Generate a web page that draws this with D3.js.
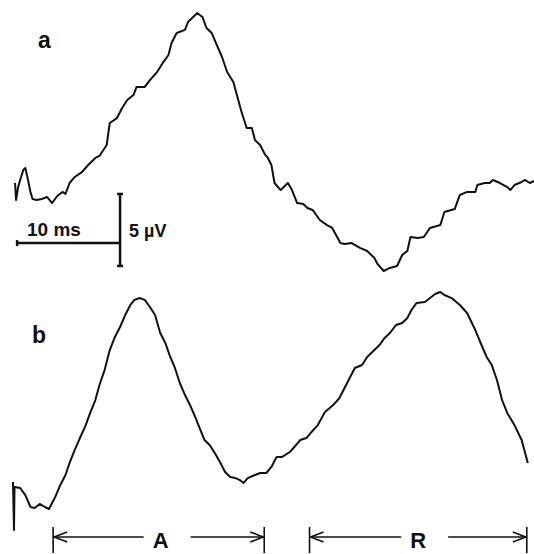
<!DOCTYPE html>
<html>
<head>
<meta charset="utf-8">
<script src="https://cdn.jsdelivr.net/npm/d3@7"></script>
<style>
  body { margin: 0; background: #fff; }
  svg text { font-family: "Liberation Sans", Arial, sans-serif; fill: #111; }
</style>
</head>
<body>
<div id="chart"></div>
<script>
// trace a: time (ms) and potential (µV)
var timeA = [0.1, 0.2, 0.4, 0.6, 0.9, 1.1, 1.3, 1.6, 1.8, 2.2, 2.7, 3.2, 3.7, 4.2, 4.7, 5.0, 5.4, 5.9, 6.6, 7.2, 7.9, 8.3, 9.0, 9.3, 10.0, 10.5, 11.0, 11.6, 11.9, 12.7, 13.2, 13.9, 14.5, 15.0, 15.3, 15.8, 16.6, 16.9, 17.4, 17.8, 18.3, 18.7, 19.2, 19.7, 20.2, 20.7, 21.3, 21.7, 22.1, 22.6, 23.1, 23.4, 23.9, 24.4, 24.6, 25.0, 25.3, 25.9, 26.6, 27.0, 27.5, 28.1, 28.5, 29.0, 29.7, 30.4, 30.9, 31.7, 32.1, 32.8, 33.6, 34.3, 35.0, 35.3, 35.9, 36.5, 37.2, 37.7, 38.2, 38.5, 39.2, 39.8, 40.4, 41.4, 41.8, 42.8, 43.3, 44.0, 44.8, 45.0, 45.7, 46.2, 46.5, 47.2, 47.9, 48.2, 48.6, 49.3, 49.6, 50.1, 50.5];
var voltA = [1.18, 0.0, 0.9, 1.39, 2.08, 2.22, 1.6, 0.56, 0.07, 0.0, 0.07, 0.21, -0.21, 0.28, 0.56, 0.42, 1.18, 1.6, 1.94, 2.43, 2.92, 3.06, 3.82, 5.35, 5.69, 6.39, 6.94, 7.29, 7.85, 7.85, 8.33, 8.89, 9.58, 10.07, 10.9, 11.6, 11.81, 12.36, 12.71, 12.99, 12.71, 11.94, 11.6, 10.76, 9.93, 8.89, 8.19, 7.15, 6.11, 5.0, 5.0, 4.17, 3.82, 3.13, 2.99, 2.43, 1.18, 0.69, 1.18, 0.69, -0.21, -0.28, -0.56, -0.69, -1.39, -1.74, -1.94, -2.99, -3.06, -2.99, -3.33, -3.54, -4.03, -4.44, -4.93, -4.72, -4.58, -3.82, -3.54, -2.57, -2.64, -2.57, -1.94, -1.74, -0.83, -0.63, 0.35, 0.56, 0.56, 1.04, 1.18, 1.18, 1.39, 1.18, 0.9, 0.69, 1.04, 1.25, 1.39, 1.18, 1.32];

// trace b
var timeB = [-0.1, 0.0, 0.05, 0.6, 1.1, 1.6, 2.0, 2.5, 3.0, 3.4, 4.0, 4.5, 5.0, 5.4, 5.9, 6.4, 6.9, 7.4, 7.9, 8.3, 8.8, 9.3, 9.8, 10.3, 10.8, 11.3, 11.7, 12.2, 12.7, 13.2, 13.7, 14.2, 14.7, 15.1, 15.6, 16.1, 16.6, 17.1, 17.6, 18.1, 18.5, 19.0, 19.5, 20.0, 20.5, 21.0, 21.5, 21.9, 22.3, 22.7, 23.4, 23.9, 24.5, 25.0, 25.5, 26.0, 26.8, 27.8, 28.4, 28.9, 29.5, 30.2, 31.0, 31.6, 32.1, 32.6, 33.1, 33.8, 34.3, 34.8, 35.5, 36.0, 36.5, 37.1, 37.7, 38.2, 38.6, 39.1, 39.9, 40.4, 40.9, 41.4, 41.8, 42.5, 43.3, 44.0, 44.8, 45.4, 45.9, 46.4, 46.9, 47.4, 47.9, 48.6, 49.3, 49.9];
var voltB = [1.74, -1.6, 1.39, 1.32, 0.83, 0.0, -0.07, 0.21, 0.0, -0.14, 0.69, 1.53, 2.22, 3.06, 3.96, 4.79, 5.56, 6.53, 7.43, 8.47, 9.51, 10.9, 11.81, 12.5, 13.33, 14.03, 14.38, 14.51, 14.38, 13.89, 13.33, 12.08, 11.39, 10.56, 9.72, 8.61, 7.78, 7.08, 6.25, 5.35, 4.65, 4.31, 3.75, 3.13, 2.43, 2.08, 2.01, 1.88, 1.67, 2.01, 2.22, 2.36, 2.36, 2.78, 3.47, 3.47, 3.82, 4.65, 4.79, 5.21, 5.69, 6.6, 7.08, 7.57, 8.26, 8.96, 9.65, 9.86, 10.42, 10.76, 11.25, 11.74, 12.08, 12.64, 12.78, 13.13, 13.68, 14.17, 14.24, 14.51, 14.79, 14.93, 14.72, 14.51, 14.03, 13.47, 12.29, 11.25, 10.42, 9.86, 8.82, 7.43, 6.53, 5.69, 4.65, 3.06];

// calibration bar (ms / µV, in trace a units) and interval markers
var calTime = [0.3, 10.3];
var calVolt = [0.42, -4.58];
var calLevel = -2.99;
var calLabels = ["10 ms", "5 \u00b5V"];
var intervalNames = ["A", "R"];
var intervalStart = [3.8, 28.7];
var intervalEnd = [24.3, 49.8];

var width = 534, height = 554;

var svg = d3.select("#chart")
  .append("svg")
  .attr("width", width)
  .attr("height", height);

var x = d3.scaleLinear().domain([0, 50.5]).range([14, 534]);
var yA = d3.scaleLinear().domain([0, 5]).range([200, 128]);
var yB = d3.scaleLinear().domain([0, 5]).range([507, 435]);

var lineA = d3.line().x(function (d) { return x(d[0]); }).y(function (d) { return yA(d[1]); });
var lineB = d3.line().x(function (d) { return x(d[0]); }).y(function (d) { return yB(d[1]); });

svg.append("path")
  .datum(d3.zip(timeA, voltA))
  .attr("d", lineA)
  .attr("fill", "none")
  .attr("stroke", "#111")
  .attr("stroke-width", 2)
  .attr("stroke-linejoin", "round");

svg.append("path")
  .datum(d3.zip(timeB, voltB))
  .attr("d", lineB)
  .attr("fill", "none")
  .attr("stroke", "#111")
  .attr("stroke-width", 2)
  .attr("stroke-linejoin", "round");

// panel letters
svg.append("text").attr("x", 38).attr("y", 48)
  .attr("font-size", 23).attr("font-weight", "bold").text("a");
svg.append("text").attr("x", 32).attr("y", 343)
  .attr("font-size", 23).attr("font-weight", "bold").text("b");

// calibration bar
var cal = svg.append("g").attr("stroke", "#111").attr("stroke-width", 2.5);
var cx0 = x(calTime[0]), cx1 = x(calTime[1]);
var cyH = yA(calLevel), cyT = yA(calVolt[0]), cyB = yA(calVolt[1]);
cal.append("line").attr("x1", cx0).attr("x2", cx1).attr("y1", cyH).attr("y2", cyH);
cal.append("line").attr("x1", cx0).attr("x2", cx0).attr("y1", cyH - 3).attr("y2", cyH + 3);
cal.append("line").attr("x1", cx1).attr("x2", cx1).attr("y1", cyT).attr("y2", cyB);
cal.append("line").attr("x1", cx1 - 3).attr("x2", cx1 + 3).attr("y1", cyT).attr("y2", cyT);
cal.append("line").attr("x1", cx1 - 3).attr("x2", cx1 + 3).attr("y1", cyB).attr("y2", cyB);

svg.append("text").attr("x", 27).attr("y", 236)
  .attr("font-size", 19).attr("font-weight", "bold").text(calLabels[0]);
svg.append("text").attr("x", 129).attr("y", 237)
  .attr("font-size", 18).attr("font-weight", "bold").text(calLabels[1]);

// interval arrows
var arrowY = 537;
intervalNames.forEach(function (name, i) {
  var g = svg.append("g");
  var x0 = x(intervalStart[i]), x1 = x(intervalEnd[i]);
  var mid = (x0 + x1) / 2 + (i === 0 ? 2 : 0);
  var s = { stroke: "#111", "stroke-width": 1.6, fill: "none" };
  function ln(a, b, c, d) {
    var l = g.append("line").attr("x1", a).attr("y1", b).attr("x2", c).attr("y2", d);
    Object.keys(s).forEach(function (k) { l.attr(k, s[k]); });
  }
  ln(x0, arrowY - 10, x0, arrowY + 16);
  ln(x1, arrowY - 10, x1, arrowY + 16);
  ln(x0, arrowY, mid - 17, arrowY);
  ln(mid + 30, arrowY, x1, arrowY);
  ln(x0 + 1, arrowY, x0 + 14, arrowY - 5);
  ln(x0 + 1, arrowY, x0 + 14, arrowY + 5);
  ln(x1 - 1, arrowY, x1 - 14, arrowY - 5);
  ln(x1 - 1, arrowY, x1 - 14, arrowY + 5);
  g.append("text").attr("x", mid).attr("y", 548)
    .attr("text-anchor", "middle").attr("font-size", 22)
    .attr("font-weight", "bold").text(name);
});
</script>
</body>
</html>
